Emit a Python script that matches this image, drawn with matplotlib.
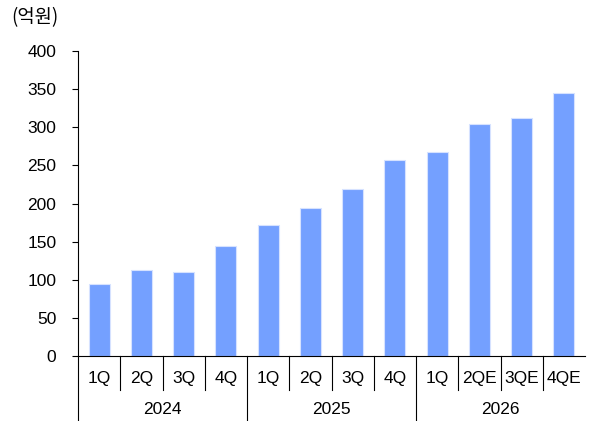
import matplotlib
matplotlib.use("Agg")
import matplotlib.pyplot as plt
from matplotlib.transforms import blended_transform_factory
from matplotlib import font_manager

names = {f.name for f in font_manager.fontManager.ttflist}
base = 'Liberation Sans Narrow' if 'Liberation Sans Narrow' in names else 'Liberation Sans'
plt.rcParams['font.family'] = [base, 'Noto Sans CJK KR', 'DejaVu Sans']

quarters = ['1Q', '2Q', '3Q', '4Q', '1Q', '2Q', '3Q', '4Q', '1Q', '2QE', '3QE', '4QE']
years = ['2024', '2025', '2026']
values = [95, 113, 110, 144, 172, 194, 219, 257, 268, 304, 312, 345]
yticks = [0, 50, 100, 150, 200, 250, 300, 350, 400]

FS = 12.5
fig = plt.figure(figsize=(5.9, 4.21), dpi=100)
ax = fig.add_axes([78/590, (421-356)/421, (585-78)/590, (356-51)/421])
x = list(range(len(values)))
ax.bar(x, values, width=0.5, color='#74A0FF', edgecolor='#D6E2FF', linewidth=0.8)
ax.set_xlim(-0.5, len(values) - 0.5)
ax.set_ylim(0, 400)
ax.set_yticks(yticks)
ax.set_yticklabels([str(v) for v in yticks], fontsize=FS)
ax.tick_params(axis='y', direction='out', length=4.5, width=0.8, pad=11)
ax.set_xticks([])
for s in ['top', 'right']:
    ax.spines[s].set_visible(False)
ax.spines['left'].set_linewidth(0.8)
ax.spines['bottom'].set_linewidth(0.8)
ax.spines['bottom'].set_bounds(-0.5, len(values) - 0.5)

tr = blended_transform_factory(ax.transData, ax.transAxes)
h = 305.0
q_y = -(378 - 356) / h
y_y = -(410 - 356) / h
q_line = -(390 - 356) / h
y_line = -(421 - 356) / h
for i, q in enumerate(quarters):
    ax.text(i, q_y, q, transform=tr, ha='center', va='center', fontsize=FS)
for i in range(len(quarters)):
    b = i - 0.5
    if i % 4 == 0:
        ax.plot([b, b], [0, y_line], transform=tr, color='black', lw=0.8, clip_on=False)
    else:
        ax.plot([b, b], [0, q_line], transform=tr, color='black', lw=0.8, clip_on=False)
for j, yr in enumerate(years):
    ax.text(j * 4 + 1.5, y_y, yr, transform=tr, ha='center', va='center', fontsize=FS)

fig.text(11/590, 1 - 18/421, '(억원)', ha='left', va='center', fontsize=13.5,
         family=['Noto Sans CJK KR', 'DejaVu Sans'])

fig.savefig('out.png', dpi=100)
